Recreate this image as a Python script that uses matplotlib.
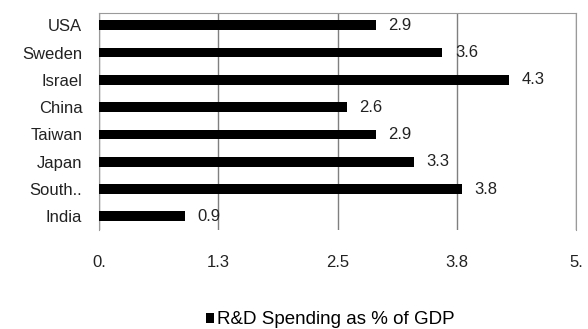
import matplotlib.pyplot as plt

# データ
countries = ["USA", "Sweden", "Israel", "China", "Taiwan", "Japan", "South..", "India"]
rd_spending = [2.9, 3.6, 4.3, 2.6, 2.9, 3.3, 3.8, 0.9]
x_ticks = [0, 1.25, 2.5, 3.75, 5]
x_tick_labels = ["0.", "1.3", "2.5", "3.8", "5."]
series_name = "R&D Spending as % of GDP"

plt.rcParams['font.family'] = ['Liberation Sans', 'DejaVu Sans']

fig = plt.figure(figsize=(5.88, 3.29), dpi=100)
ax = fig.add_axes([99 / 588, 1 - 230 / 329, 477 / 588, 217 / 329])

pos = list(range(len(countries)))
bars = ax.barh(pos, rd_spending, height=0.36, color='black', label=series_name, zorder=3)

# 値ラベル
for p, v in zip(pos, rd_spending):
    ax.annotate(f"{v}", (v, p), xytext=(9, 0), textcoords='offset points',
                va='center', ha='left', fontsize=12, color='#222222')

ax.set_xlim(0, 5)
ax.set_ylim(len(countries) - 0.5, -0.45)
ax.set_yticks(pos)
ax.set_yticklabels(countries, fontsize=12, color='#222222')
ax.set_xticks(x_ticks)
ax.set_xticklabels(x_tick_labels, fontsize=12, color='#222222')
ax.tick_params(axis='both', length=0)
ax.tick_params(axis='x', pad=18)
ax.tick_params(axis='y', pad=12)

# グリッドと枠
ax.grid(axis='x', color='#7f7f7f', linewidth=1, zorder=1)
for side in ['left', 'right', 'top']:
    ax.spines[side].set_color('#9a9a9a')
ax.spines['bottom'].set_visible(False)

fig.legend(handles=[bars], labels=[series_name], loc='center', bbox_to_anchor=(330 / 588, 1 - 320 / 329),
           frameon=False, fontsize=13.5, handlelength=0.45, handleheight=0.45, handletextpad=0.15)

plt.savefig("out.png", dpi=100)
plt.close()
